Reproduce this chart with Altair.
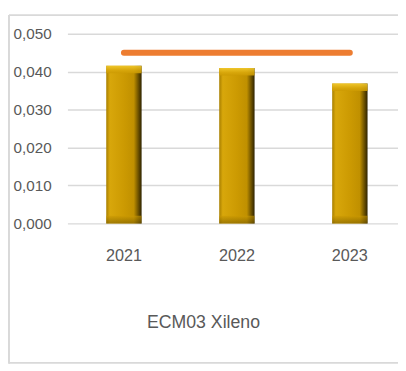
import altair as alt
import pandas as pd

years = ["2021", "2022", "2023"]
values = [0.0416, 0.0410, 0.0369]
limit = [0.045, 0.045, 0.045]
title_text = "ECM03 Xileno"

df = pd.DataFrame({"year": years, "value": values, "limit": limit})

FONT = "Liberation Sans, Arial, sans-serif"
GRAY_TXT = "#595959"
GRID = "#d9d9d9"

xscale = alt.Scale(range=[2.5, 347.5], paddingInner=0.687, paddingOuter=0.3435)
yscale = alt.Scale(domain=[0, 0.05], nice=False)

gold = alt.Gradient(
    gradient="linear",
    x1=0, x2=1, y1=0, y2=0,
    stops=[
        alt.GradientStop(color="#a87f00", offset=0),
        alt.GradientStop(color="#d8a70b", offset=0.1),
        alt.GradientStop(color="#cc9a02", offset=0.5),
        alt.GradientStop(color="#c09000", offset=0.78),
        alt.GradientStop(color="#2e2300", offset=1),
    ],
)
top_shine = alt.Gradient(
    gradient="linear",
    x1=0, x2=0, y1=0, y2=1,
    stops=[
        alt.GradientStop(color="#f3cb2f", offset=0),
        alt.GradientStop(color="#d9a80c", offset=0.6),
        alt.GradientStop(color="#cc9a02", offset=1),
    ],
)
bottom_shade = alt.Gradient(
    gradient="linear",
    x1=0, x2=0, y1=0, y2=1,
    stops=[
        alt.GradientStop(color="#cc9a02", offset=0),
        alt.GradientStop(color="#7a5d00", offset=1),
    ],
)

xax = alt.Axis(title=None, labelAngle=0, domain=False, ticks=False,
               labelPadding=25, labelFontSize=16.5, labelFont=FONT,
               labelColor=GRAY_TXT)
yax = alt.Axis(title=None, values=[0, 0.01, 0.02, 0.03, 0.04, 0.05],
               labelExpr="replace(format(datum.value, '.3f'), '.', ',')",
               labelOverlap=False, labelBound=False,
               domain=False, ticks=False, labelPadding=14,
               labelFontSize=15.5, labelFont=FONT, labelColor=GRAY_TXT,
               gridColor=GRID, gridWidth=1.5)

X = alt.X("year:N", scale=xscale, sort=years, axis=xax)

bars = alt.Chart(df).mark_bar(color=gold).encode(
    x=X,
    y=alt.Y("value:Q", scale=yscale, axis=yax),
)

shine = alt.Chart(df).transform_calculate(
    shine_low="datum.value - 0.002"
).mark_bar(color=top_shine, opacity=0.9).encode(
    x=X,
    y=alt.Y("value:Q", scale=yscale, axis=yax),
    y2="shine_low:Q",
)

shade = alt.Chart(df).transform_calculate(
    base="0", shade_top="0.002"
).mark_bar(color=bottom_shade, opacity=0.6).encode(
    x=X,
    y=alt.Y("shade_top:Q", scale=yscale, axis=yax),
    y2="base:Q",
)

line = alt.Chart(df).mark_line(color="#ed7d31", strokeWidth=6, strokeCap="round").encode(
    x=X,
    y=alt.Y("limit:Q", scale=yscale, axis=yax),
)

frame_src = alt.Data(values=[{"k": 1}])
left_edge = alt.Chart(frame_src).mark_rule(color=GRID, strokeWidth=2).encode(
    x=alt.value(-57), y=alt.value(-19), y2=alt.value(336))
top_edge = alt.Chart(frame_src).mark_rule(color=GRID, strokeWidth=2).encode(
    x=alt.value(-57), x2=alt.value(345), y=alt.value(-19))
bottom_edge = alt.Chart(frame_src).mark_rule(color=GRID, strokeWidth=2).encode(
    x=alt.value(-57), x2=alt.value(345), y=alt.value(335))

title = alt.Chart(alt.Data(values=[{"t": title_text}])).mark_text(
    font=FONT, fontSize=18, color=GRAY_TXT, align="center", baseline="middle"
).encode(text="t:N", x=alt.value(141), y=alt.value(294))

chart = alt.layer(bars, shine, shade, line, left_edge, top_edge, bottom_edge, title).properties(
    width=339,
    height=193,
    background="white",
    autosize=alt.AutoSizeParams(type="none"),
    padding={"left": 58, "top": 23, "right": 0, "bottom": 146},
).configure_view(stroke=None)

chart.save("out.html", embed_options={"renderer": "svg", "actions": False})
